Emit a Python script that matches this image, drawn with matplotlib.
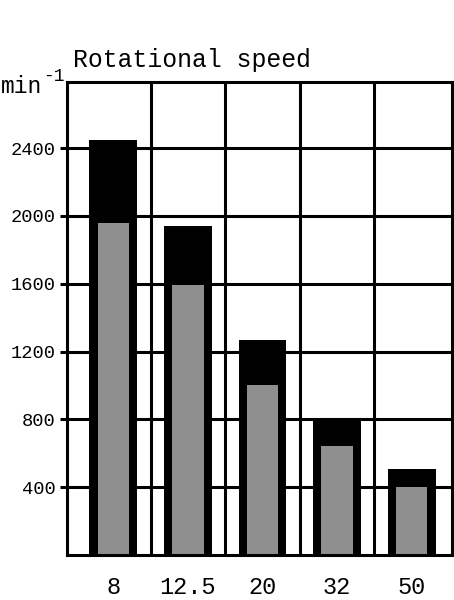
import matplotlib
matplotlib.use('Agg')
import matplotlib.pyplot as plt
import numpy as np

# data
sizes = ['8', '12.5', '20', '32', '50']
speed_max = [2450, 1940, 1270, 800, 510]     # black bars
speed_rated = [1960, 1590, 1000, 640, 400]   # grey bars
yticks = [400, 800, 1200, 1600, 2000, 2400]

plt.rcParams['font.family'] = ['Liberation Mono', 'DejaVu Sans Mono']

fig = plt.figure(figsize=(4.54, 6.0), dpi=100)
ax = fig.add_axes([67 / 454, 45 / 600, 385 / 454, 473 / 600])

x = np.arange(len(sizes))
ax.bar(x, speed_max, width=0.64, color='black', zorder=3)
ax.bar(x, speed_rated, width=0.42, color='#8f8f8f', zorder=4)

ax.set_xlim(-0.62, 4.54)
ax.set_ylim(0, 2790)

ax.set_yticks(yticks)
ax.set_yticklabels([str(v) for v in yticks], fontsize=13.5)
ax.set_xticks(x)
ax.set_xticklabels(sizes, fontsize=17)
ax.set_xticks(x[:-1] + 0.5, minor=True)

ax.tick_params(axis='y', direction='out', length=5, width=2.2, pad=3)
ax.tick_params(axis='x', which='both', length=0, pad=15)

ax.grid(axis='y', which='major', color='black', lw=2.2, zorder=1)
ax.grid(axis='x', which='minor', color='black', lw=2.2, zorder=1)
for s in ax.spines.values():
    s.set_linewidth(2.2)
    s.set_zorder(5)

fig.text(73 / 454, 1 - 60 / 600, 'Rotational speed', fontsize=17.8,
         ha='left', va='center')
fig.text(1 / 454, 1 - 93 / 600, 'min', fontsize=16.5, ha='left', va='baseline')
fig.text(43 / 454, 1 - 81 / 600, '-1', fontsize=13, ha='left', va='baseline')

plt.savefig('out.png', dpi=100)
